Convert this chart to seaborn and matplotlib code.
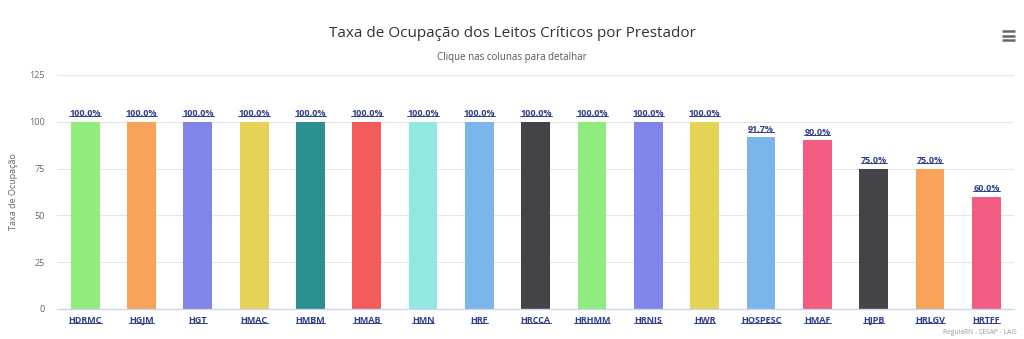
import matplotlib
matplotlib.use("Agg")
import matplotlib.pyplot as plt
from matplotlib.lines import Line2D
import seaborn as sns
import pandas as pd

prestadores = ["HDRMC", "HGJM", "HGT", "HMAC", "HMBM", "HMAB", "HMN", "HRF", "HRCCA",
               "HRHMM", "HRNIS", "HWR", "HOSPESC", "HMAF", "HJPB", "HRLGV", "HRTFF"]
ocupacao = [100.0, 100.0, 100.0, 100.0, 100.0, 100.0, 100.0, 100.0, 100.0,
            100.0, 100.0, 100.0, 91.7, 90.0, 75.0, 75.0, 60.0]
cores = ["#90ed7d", "#f7a35c", "#8085e9", "#e4d354", "#2b908f", "#f45b5b", "#91e8e1",
         "#7cb5ec", "#434348", "#90ed7d", "#8085e9", "#e4d354", "#7cb5ec", "#f15c80",
         "#434348", "#f7a35c", "#f15c80"]
yticks = [0, 25, 50, 75, 100, 125]

df = pd.DataFrame({"prestador": prestadores, "ocupacao": ocupacao})

sns.set_theme(style="white")
plt.rcParams["font.family"] = ["Open Sans", "DejaVu Sans"]

fig = plt.figure(figsize=(10.24, 3.39), dpi=100)
ax = fig.add_axes([0.0557, 0.0885, 0.935, 0.6905])

sns.barplot(data=df, x="prestador", y="ocupacao", hue="prestador", palette=cores,
            legend=False, width=0.51, saturation=1, linewidth=0, ax=ax, zorder=2)

ax.set_ylim(0, 125)
ax.set_yticks(yticks)
ax.set_yticklabels([str(t) for t in yticks], color="#666666", fontsize=6.5)
ax.yaxis.grid(True, color="#e6e6e6", linewidth=0.8, zorder=0)
ax.set_axisbelow(True)
ax.set_xlim(-0.5, len(prestadores) - 0.5)
for s in ["left", "right", "top"]:
    ax.spines[s].set_visible(False)
ax.spines["bottom"].set_color("#ccd6eb")
ax.spines["bottom"].set_linewidth(1.0)
ax.tick_params(axis="y", length=0, pad=9)
ax.tick_params(axis="x", length=0, pad=5)
ax.set_xlabel("")
ax.set_ylabel("Taxa de Ocupação", color="#666666", fontsize=6.5, labelpad=8)

link = "#2f3f8a"
ax.set_xticks(range(len(prestadores)))
ax.set_xticklabels(prestadores, color=link, fontsize=6.5, fontweight="bold")

labels = [f"{v:.1f}%".replace(".", ",") for v in ocupacao]
for i, v in enumerate(ocupacao):
    ax.text(i, v + 1.8, labels[i], ha="center", va="bottom", color=link,
            fontsize=6.5, fontweight="bold")

fig.text(0.5, 0.9, "Taxa de Ocupação dos Leitos Críticos por Prestador",
         ha="center", va="center", fontsize=11, color="#333333")
fig.text(0.5, 0.83, "Clique nas colunas para detalhar",
         ha="center", va="center", fontsize=7, color="#555555")
fig.text(0.993, 0.008, "RegulaRN - SESAP - LAIS", ha="right", va="bottom",
         fontsize=4.8, color="#999999")

# export menu icon
for yy in (0.909, 0.895, 0.881):
    fig.add_artist(Line2D([0.979, 0.991], [yy, yy], transform=fig.transFigure,
                          color="#666666", linewidth=1.8, solid_capstyle="butt"))

# underline the link-styled texts
fig.canvas.draw()
renderer = fig.canvas.get_renderer()
inv = fig.transFigure.inverted()
link_texts = list(ax.texts) + list(ax.get_xticklabels())
for t in link_texts:
    bb = t.get_window_extent(renderer)
    yline = bb.y0 + 0.22 * bb.height
    (x0, y0), (x1, _) = inv.transform([[bb.x0, yline], [bb.x1, bb.y1]])
    fig.add_artist(Line2D([x0, x1], [y0, y0], transform=fig.transFigure,
                          color=link, linewidth=0.7))

fig.savefig("out.png", dpi=100)
